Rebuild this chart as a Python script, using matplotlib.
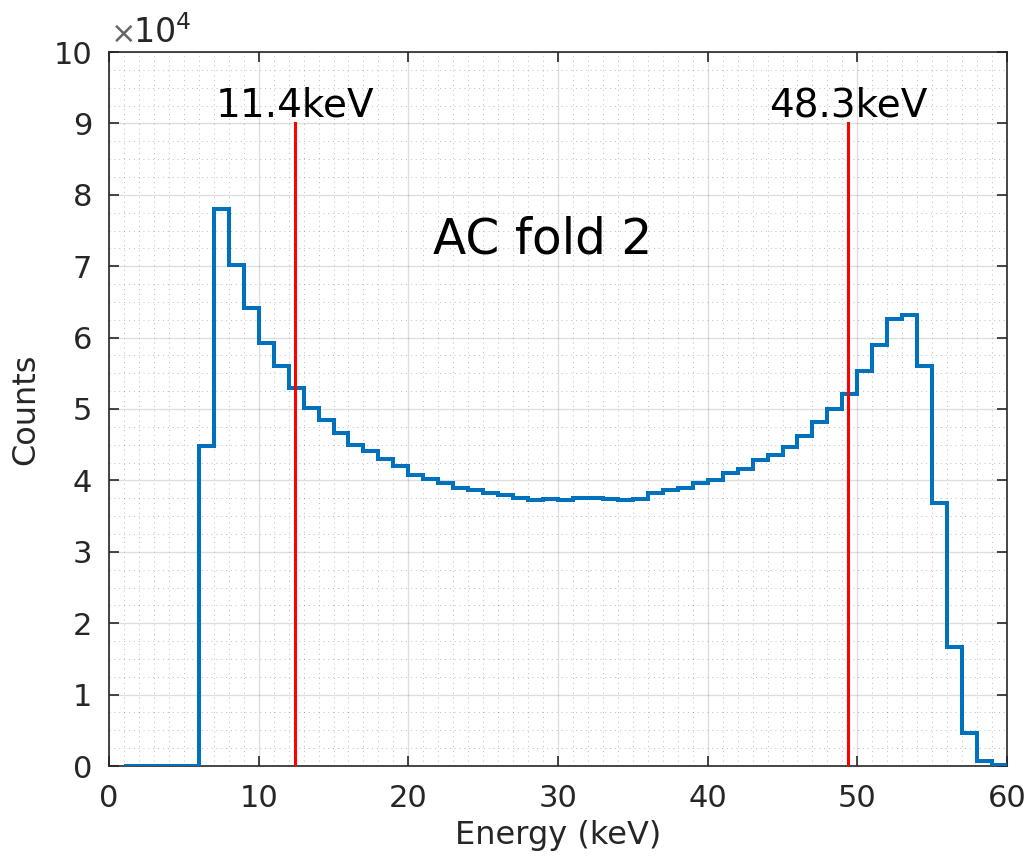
import matplotlib
matplotlib.use("Agg")
import matplotlib.pyplot as plt
from matplotlib.ticker import MultipleLocator, FuncFormatter
import numpy as np

# Data
bin_edges = list(range(1, 61))  # keV
counts = [0, 0, 0, 0, 0,
          44800, 78000, 70100, 64200, 59300, 56000, 52900, 50200, 48500, 46600,
          45000, 44100, 43000, 42000, 40800, 40200, 39700, 39000, 38700, 38300,
          38000, 37600, 37300, 37400, 37300, 37600, 37600, 37400, 37300, 37400,
          38300, 38600, 39000, 39700, 40100, 41000, 41600, 42900, 43500, 44700,
          46200, 48200, 50000, 52100, 55300, 58900, 62600, 63200, 56000, 36900,
          16600, 4600, 700, 100]
threshold_pos = [12.4, 49.4]
threshold_labels = ["11.4keV", "48.3keV"]
threshold_height = 90000
title_text = "AC fold 2"

plt.rcParams['font.family'] = ['DejaVu Sans']
fig = plt.figure(figsize=(10.30, 8.61), dpi=100)
ax = fig.add_axes([109/1030, 1-766/861, (1007-109)/1030, (766-52)/861])

ax.stairs(counts, bin_edges, baseline=None, color='#0072BD', linewidth=2.9, zorder=3)

for xp, lab in zip(threshold_pos, threshold_labels):
    ax.plot([xp, xp], [0, threshold_height], color='red', linewidth=2.2, zorder=4)
    ax.text(xp, threshold_height + 1000, lab, ha='center', va='baseline',
            fontsize=28, color='black', zorder=5)

ax.text(29, 71800, title_text, ha='center', va='baseline', fontsize=35, color='black')

ax.set_xlim(0, 60)
ax.set_ylim(0, 100000)
ax.xaxis.set_major_locator(MultipleLocator(10))
ax.yaxis.set_major_locator(MultipleLocator(10000))
ax.xaxis.set_minor_locator(MultipleLocator(1))
ax.yaxis.set_minor_locator(MultipleLocator(2500))
ax.yaxis.set_major_formatter(FuncFormatter(lambda v, p: f"{v/1e4:g}"))

dark = (0.15, 0.15, 0.15)
ax.tick_params(which='major', direction='in', length=7, width=1.2, colors=dark,
               labelsize=22, top=True, right=True, pad=12)
ax.tick_params(which='minor', length=0, top=True, right=True)
ax.tick_params(axis='x', pad=13)
for s in ax.spines.values():
    s.set_color(dark)
    s.set_linewidth(1.2)

ax.grid(which='major', color=(0.15, 0.15, 0.15), alpha=0.15, linewidth=1.0)
ax.grid(which='minor', color=(0.15, 0.15, 0.15), alpha=0.3, linewidth=0.7, linestyle=(0, (1, 4)))
ax.set_axisbelow(True)

ax.set_xlabel("Energy (keV)", fontsize=23, color=dark, labelpad=5)
ax.set_ylabel("Counts", fontsize=23, color=dark, labelpad=9)

fig.text(110/1030, 1-43/861, r"$\times$", fontsize=22, color=(0.4, 0.4, 0.4),
         ha='left', va='baseline')
fig.text(133/1030, 1-43/861, r"10$^{4}$", fontsize=24, color=dark,
         ha='left', va='baseline')

fig.savefig("out.png", dpi=100)
